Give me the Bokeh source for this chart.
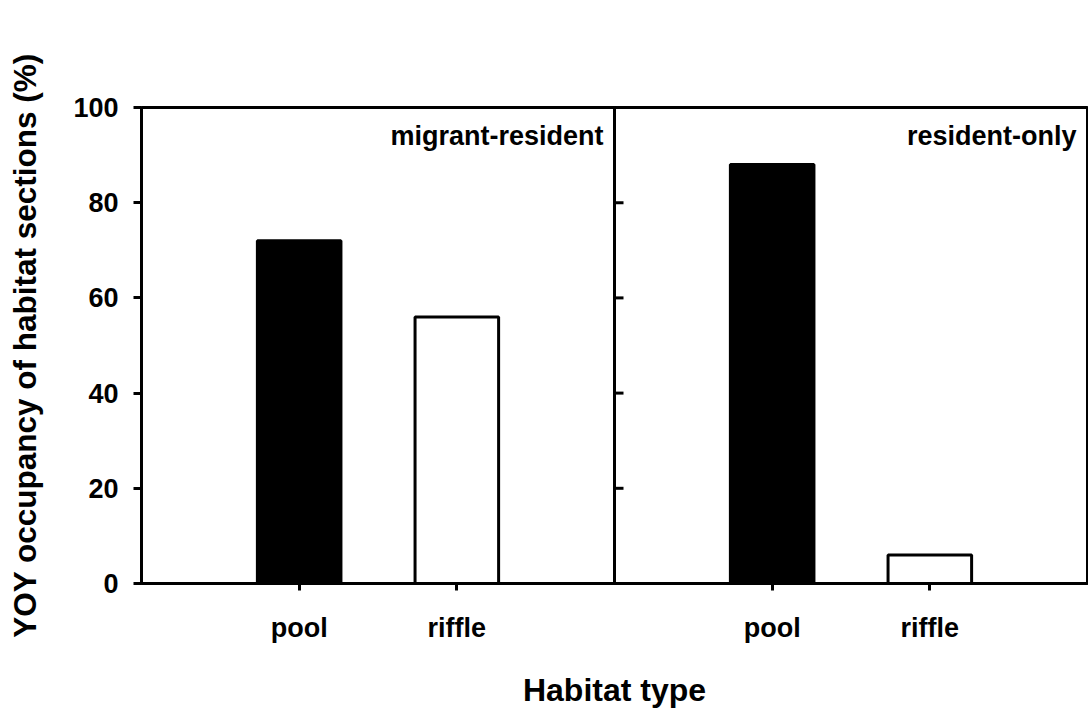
from bokeh.plotting import figure
from bokeh.models import FixedTicker, Span, Label, ColumnDataSource, Range1d
from bokeh.embed import file_html
from bokeh.resources import INLINE

# ---- data ----
panels = ["migrant-resident", "resident-only"]
habitats = ["pool", "riffle"]
occupancy_migrant_resident = [72, 56]
occupancy_resident_only = [88, 6]
habitat_fill = ["black", "white"]
y_ticks = [0, 20, 40, 60, 80, 100]
x_title = "Habitat type"
y_title = "YOY occupancy of habitat sections (%)"

FONT = "Liberation Sans"

step = len(habitats) + 1
series = [occupancy_migrant_resident, occupancy_resident_only]
xs, tops, fills = [], [], []
tick_pos, tick_labels = [], {}
for pi, vals in enumerate(series):
    for hi, v in enumerate(vals):
        x = pi * step + hi + 1
        xs.append(x)
        tops.append(v)
        fills.append(habitat_fill[hi])
        tick_pos.append(x)
        tick_labels[x] = habitats[hi]

src = ColumnDataSource(dict(x=xs, top=tops, fill=fills))

p = figure(width=1088, height=715, output_backend="svg", toolbar_location=None,
           x_range=Range1d(0, step * len(panels)), y_range=Range1d(y_ticks[0], y_ticks[-1]),
           min_border_left=141, min_border_right=1, min_border_top=107, min_border_bottom=132)

p.vbar(x="x", top="top", bottom=0, width=0.53, source=src,
       fill_color="fill", line_color="black", line_width=3)

# panel divider
for pi in range(1, len(panels)):
    p.add_layout(Span(location=pi * step, dimension="height", line_color="black", line_width=3))
    p.ray(x=[pi * step] * len(y_ticks), y=y_ticks, length=9, length_units="screen",
          angle=0, line_color="black", line_width=3)

# panel titles
for pi, name in enumerate(panels):
    p.add_layout(Label(x=(pi + 1) * step, y=y_ticks[-1], text=name, x_offset=-11, y_offset=-13,
                       text_align="right", text_baseline="top", text_font=FONT,
                       text_font_size="27px", text_font_style="bold", text_color="black"))

p.grid.visible = False
p.outline_line_color = "black"
p.outline_line_width = 3
p.outline_line_alpha = 1
p.background_fill_color = "white"
p.border_fill_color = "white"

p.yaxis.ticker = FixedTicker(ticks=y_ticks)
p.yaxis.minor_tick_line_color = None
p.yaxis.major_tick_out = 8
p.yaxis.major_tick_in = 0
p.yaxis.major_tick_line_width = 3
p.yaxis.axis_line_width = 3
p.yaxis.major_label_standoff = 15
p.yaxis.axis_label = y_title
p.yaxis.axis_label_standoff = 27

p.xaxis.ticker = FixedTicker(ticks=tick_pos)
p.xaxis.major_label_overrides = tick_labels
p.xaxis.minor_tick_line_color = None
p.xaxis.major_tick_out = 7
p.xaxis.major_tick_in = 0
p.xaxis.major_tick_line_width = 3
p.xaxis.axis_line_width = 3
p.xaxis.major_label_standoff = 22
p.xaxis.axis_label = x_title
p.xaxis.axis_label_standoff = 26

for ax in (p.xaxis, p.yaxis):
    ax.major_label_text_font = FONT
    ax.major_label_text_font_size = "27px"
    ax.major_label_text_font_style = "bold"
    ax.major_label_text_color = "black"
    ax.axis_label_text_font = FONT
    ax.axis_label_text_font_style = "bold"
    ax.axis_label_text_color = "black"
    ax.axis_line_color = "black"
    ax.major_tick_line_color = "black"

p.xaxis.axis_label_text_font_size = "32px"
p.yaxis.axis_label_text_font_size = "31.5px"

open("out.html", "w").write(file_html(p, INLINE))
